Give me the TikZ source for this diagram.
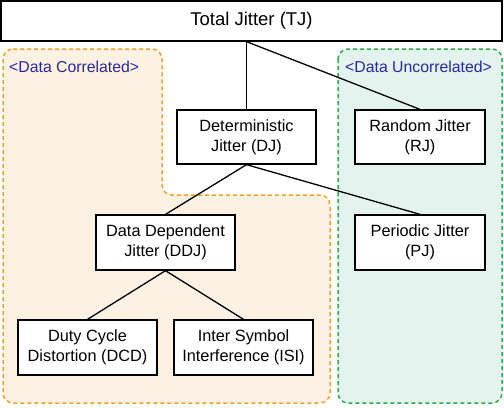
\documentclass[tikz,border=0pt]{standalone}
\usepackage{fontspec}
\setmainfont{Liberation Sans}
\begin{document}
\begin{tikzpicture}[x=1bp,y=-1bp,
  box/.style={draw=black,line width=1.3bp,fill=white,inner sep=0pt,align=center,
    font=\fontsize{16.3bp}{20bp}\selectfont},
  region/.style={dashed,dash pattern=on 4bp off 3bp,line width=1.5bp,rounded corners=10bp},
  grouplabel/.style={anchor=base west,inner sep=0pt,text=labelblue,font=\fontsize{15.8bp}{20bp}\selectfont},
  link/.style={draw=black,line width=1.3bp}]
\definecolor{labelblue}{RGB}{40,40,160}
\definecolor{orangeline}{RGB}{245,160,40}
\definecolor{orangefill}{RGB}{253,241,228}
\definecolor{greenline}{RGB}{40,175,70}
\definecolor{greenfill}{RGB}{228,243,238}
\useasboundingbox (0,0) rectangle (504,407);
% regions
\path[region,draw=orangeline,fill=orangefill]
  (3,49) -- (162,49) -- (162,195) -- (330,195) -- (330,403) -- (3,403) -- cycle;
\path[region,draw=greenline,fill=greenfill]
  (338,49) rectangle (502,403);
\node[grouplabel] (lc) at (9,72) {<Data Correlated>};
\node[grouplabel] (lu) at (345,72) {<Data Uncorrelated>};
% nodes
\node[box,minimum width=501bp,minimum height=40bp,font=\fontsize{18.5bp}{22bp}\selectfont] (TJ) at (251.5,21) {Total Jitter (TJ)};
\node[box,minimum width=139bp,minimum height=54bp] (DJ) at (246.5,137) {Deterministic\\Jitter (DJ)};
\node[box,minimum width=130bp,minimum height=54bp] (RJ) at (420,137) {Random Jitter\\(RJ)};
\node[box,minimum width=139bp,minimum height=55bp] (DDJ) at (165.5,242.5) {Data Dependent\\Jitter (DDJ)};
\node[box,minimum width=130bp,minimum height=55bp] (PJ) at (420,242.5) {Periodic Jitter\\(PJ)};
\node[box,minimum width=139bp,minimum height=55bp] (DCD) at (87.5,347.5) {Duty Cycle\\Distortion (DCD)};
\node[box,minimum width=139bp,minimum height=55bp] (ISI) at (243.5,347.5) {Inter Symbol\\Interference (ISI)};
% connectors
\coordinate (tjs) at (DJ.north |- TJ.south);
\draw[link] (tjs) -- (DJ.north);
\draw[link] (tjs) -- (RJ.north);
\draw[link] (DJ.south) -- (DDJ.north);
\draw[link] (DJ.south) -- (PJ.north);
\draw[link] (DDJ.south) -- (DCD.north);
\draw[link] (DDJ.south) -- (ISI.north);
\end{tikzpicture}
\end{document}
